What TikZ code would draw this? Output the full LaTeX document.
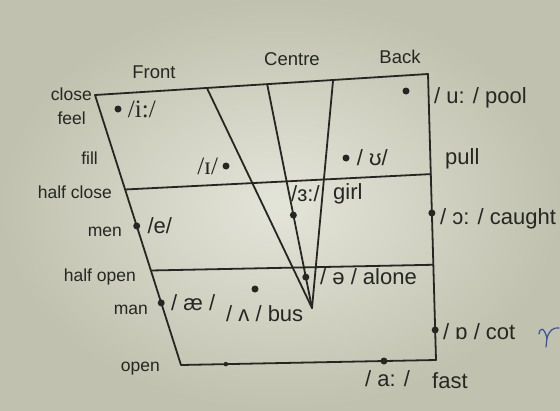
\documentclass[tikz,border=0pt]{standalone}
\usepackage{fontspec}
\setmainfont{Liberation Sans}
\newfontfamily\ipaserif{Liberation Serif}
\usetikzlibrary{calc,positioning}
\definecolor{Paper}{HTML}{E4E5D9}
\definecolor{PaperEdge}{HTML}{C0C1AE}
\definecolor{Ink}{HTML}{262723}
\definecolor{Biro}{HTML}{3B4E9E}
\tikzset{
  chartline/.style={draw=Ink,line width=1.8pt,line cap=round,line join=round},
  vdot/.style={circle,fill=Ink,draw=none,minimum size=7pt,inner sep=0pt},
  sidelabel/.style={text=Ink,inner sep=0pt,anchor=base east,font=\fontsize{17.5}{20}\selectfont},
  toplabel/.style={text=Ink,inner sep=0pt,anchor=base,font=\fontsize{18.5}{21}\selectfont},
  wordlabel/.style={text=Ink,inner sep=0pt,anchor=base west,font=\fontsize{22}{25}\selectfont},
  seriflabel/.style={text=Ink,inner sep=0pt,font=\ipaserif\fontsize{25}{28}\selectfont},
}

\begin{document}
\begin{tikzpicture}[x=1pt,y=-1pt]
  \useasboundingbox (0,0) rectangle (560,410);
  \shade[inner color=Paper,outer color=PaperEdge] (0,0) rectangle (560,410);

  % outline of the chart
  \coordinate (TL) at (95,95);
  \coordinate (TR) at (428,74);
  \coordinate (BR) at (436,360);
  \coordinate (BL) at (181,365);
  \coordinate (A) at (312,308);
  \coordinate (HCl) at ($(TL)!0.35!(BL)$);
  \coordinate (HCr) at ($(TR)!0.35!(BR)$);
  \coordinate (HOl) at ($(TL)!0.65!(BL)$);
  \coordinate (HOr) at ($(TR)!0.667!(BR)$);
  \coordinate (F1) at ($(TL)!0.336!(TR)$);
  \coordinate (F2) at ($(TL)!0.517!(TR)$);
  \coordinate (F3) at ($(TL)!0.715!(TR)$);

  \draw[chartline] (TL) -- (TR) -- (BR) -- (BL) -- cycle;
  \draw[chartline] (HCl) -- (HCr);
  \draw[chartline] (HOl) -- (HOr);
  \draw[chartline] (F1) -- (A);
  \draw[chartline] (F2) -- (A);
  \draw[chartline] (F3) -- (A);

  % vowel points
  \node[vdot] (iy) at (118,109) {};
  \node[vdot] (ih) at (226,166) {};
  \node[vdot] (uh) at (346,158) {};
  \node[vdot] (uw) at (406,91) {};
  \node[vdot] (er) at ($(F2)!0.585!(A)$) {};
  \node[vdot] (ao) at ($(TR)!0.486!(BR)$) {};
  \node[vdot] (eh) at ($(TL)!0.485!(BL)$) {};
  \node[vdot] (ax) at ($(F2)!0.862!(A)$) {};
  \node[vdot] (ae) at ($(TL)!0.77!(BL)$) {};
  \node[vdot] (ah) at (255,289) {};
  \node[vdot] (oh) at ($(TR)!0.895!(BR)$) {};
  \node[vdot] (aa) at ($(BL)!0.796!(BR)$) {};
  \node[vdot,minimum size=4.5pt] (op) at ($(BL)!0.176!(BR)$) {};

  % symbols and key words
  \node[seriflabel,right=6pt of iy] (iyl) {/i:/};
  \node[seriflabel,left=4pt of ih] (ihl) {/ɪ/};
  \node[wordlabel,anchor=west,right=7pt of uh] (uhl) {/ ʊ/};
  \node[wordlabel] (uwl) at (434,103) {/ u: / pool};
  \node[wordlabel] (pull) at (445,164) {pull};
  \node[wordlabel] (erl) at (291,201) {/ɜ:/};
  \node[wordlabel] (girl) at (333,199) {girl};
  \node[wordlabel] (aol) at (440,224) {/ ɔ: / caught};
  \node[wordlabel,anchor=west,right=7pt of eh] (ehl) {/e/};
  \node[wordlabel] (axl) at (320,284) {/ ə / alone};
  \node[wordlabel,anchor=west,right=6pt of ae] (ael) {/ æ /};
  \node[wordlabel] (ahl) at (226,321) {/ ʌ / bus};
  \node[wordlabel] (ohl) at (443,339) {/ ɒ / cot};
  \node[wordlabel] (aal) at (365,386) {/ a: /};
  \node[wordlabel] (fast) at (432,388) {fast};

  % tongue height and position
  \node[sidelabel] (close) at (92,100) {close};
  \node[sidelabel] (feel) at (86,124) {feel};
  \node[sidelabel] (fill) at (98,164) {fill};
  \node[sidelabel] (hclose) at (112,198) {half close};
  \node[sidelabel] (men) at (122,236) {men};
  \node[sidelabel] (hopen) at (136,281) {half open};
  \node[sidelabel] (man) at (148,314) {man};
  \node[sidelabel] (open) at (160,371) {open};
  \node[toplabel] (front) at (154,78) {Front};
  \node[toplabel] (centre) at (292,65) {Centre};
  \node[toplabel] (back) at (400,63) {Back};

  % pen mark in the margin
  \draw[Biro,line width=1.2pt,line cap=round]
    (539,334) .. controls (540,327) and (544,327) .. (547,338)
    .. controls (549,331) and (553,327) .. (559,328);
  \draw[Biro,line width=1.2pt,line cap=round] (547,338) -- (546,347);
\end{tikzpicture}
\end{document}
